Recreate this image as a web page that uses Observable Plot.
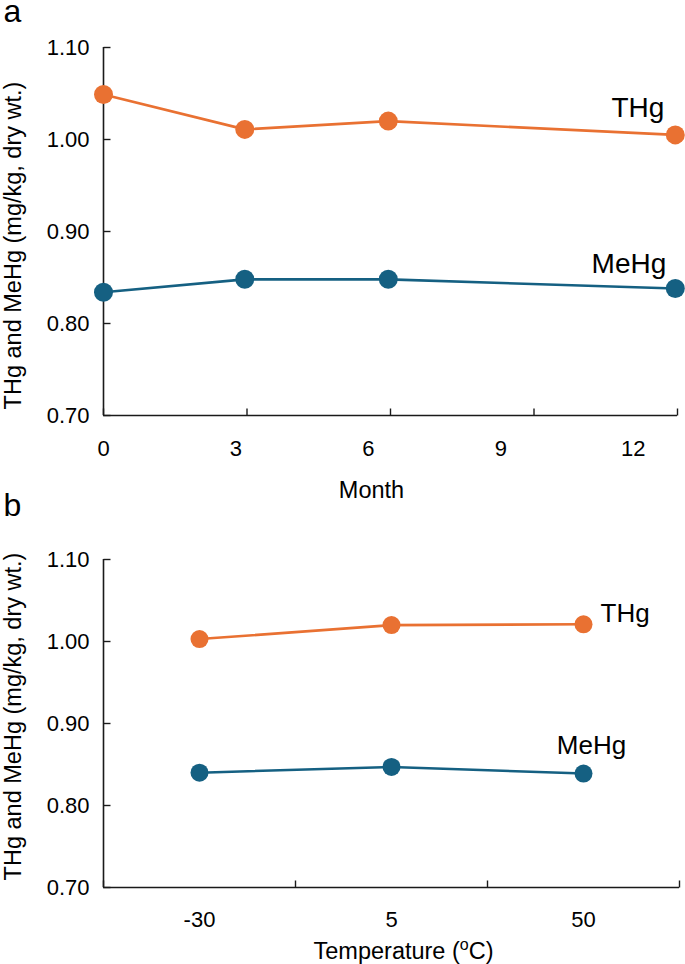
<!DOCTYPE html>
<html>
<head>
<meta charset="utf-8">
<script src="https://cdn.jsdelivr.net/npm/d3@7"></script>
<script src="https://cdn.jsdelivr.net/npm/@observablehq/plot@0.6"></script>
<style>
  html, body { margin: 0; padding: 0; background: #fff; }
  #wrap { width: 685px; position: relative; font-family: "Liberation Sans", Arial, sans-serif; }
  #wrap svg { display: block; }
</style>
</head>
<body>
<div id="wrap"></div>
<script>
// ---- data ----
const seriesNames = ["THg", "MeHg"];
const seriesColors = ["#E97132", "#156082"];

const months = [0, 3.2, 6.45, 12.95];
const thgMonth = [1.049, 1.011, 1.020, 1.005];
const mehgMonth = [0.834, 0.848, 0.848, 0.838];
const monthTickLabels = [0, 3, 6, 9, 12];
const monthTickMarks = [0, 3.25, 6.5, 9.75, 13];

const temps = ["-30", "5", "50"];
const thgTemp = [1.003, 1.020, 1.021];
const mehgTemp = [0.840, 0.847, 0.839];

const yTicks = [0.70, 0.80, 0.90, 1.00, 1.10];
const yTitle = "THg and MeHg (mg/kg, dry wt.)";
const panelLetters = ["a", "b"];

// ---- helpers ----
const FONT = "Liberation Sans, Arial, sans-serif";
const AX = "#1a1a1a";
const tickUp = {draw(ctx) { ctx.moveTo(0, 0); ctx.lineTo(0, -7); }};
const tickRight = {draw(ctx) { ctx.moveTo(0, 0); ctx.lineTo(7, 0); }};

function rows(xs, a, b) {
  const out = [];
  xs.forEach((x, i) => {
    out.push({x, y: a[i], s: seriesNames[0]});
    out.push({x, y: b[i], s: seriesNames[1]});
  });
  return out;
}

// ---- panel a ----
const dataA = rows(months, thgMonth, mehgMonth);
const plotA = Plot.plot({
  width: 685, height: 524,
  marginLeft: 103, marginRight: 8, marginTop: 47, marginBottom: 109,
  style: {fontFamily: FONT, fontSize: "22px", color: "#000", background: "#fff"},
  x: {domain: [0, 13], axis: null},
  y: {domain: [0.70, 1.10], axis: null},
  color: {domain: seriesNames, range: seriesColors},
  marks: [
    Plot.axisY(yTicks, {tickSize: 0, tickPadding: 14, tickFormat: d3.format(".2f"), label: null, fontSize: 22}),
    Plot.axisX(monthTickLabels, {tickSize: 0, tickPadding: 25, tickFormat: d => String(d), label: null, fontSize: 22}),
    Plot.ruleX([0], {stroke: AX, strokeWidth: 1.6}),
    Plot.ruleY([0.70], {stroke: AX, strokeWidth: 1.6}),
    Plot.dot(yTicks, {y: d => d, frameAnchor: "left", symbol: tickRight, stroke: AX, fill: "none", strokeWidth: 1.4}),
    Plot.dot(monthTickMarks, {x: d => d, frameAnchor: "bottom", symbol: tickUp, stroke: AX, fill: "none", strokeWidth: 1.4}),
    Plot.line(dataA, {x: "x", y: "y", z: "s", stroke: "s", strokeWidth: 2.6}),
    Plot.dot(dataA, {x: "x", y: "y", fill: "s", r: 9.5}),
    Plot.text([{x: months[3], y: thgMonth[3], t: seriesNames[0]}], {x: "x", y: "y", text: "t", textAnchor: "end", lineAnchor: "bottom", dx: -11, dy: -18, fontSize: 28, fill: "#000"}),
    Plot.text([{x: months[3], y: mehgMonth[3], t: seriesNames[1]}], {x: "x", y: "y", text: "t", textAnchor: "end", lineAnchor: "bottom", dx: -9, dy: -16, fontSize: 28, fill: "#000"}),
    Plot.text([yTitle], {frameAnchor: "left", rotate: -90, textAnchor: "middle", lineAnchor: "middle", dx: -90, dy: 14, fontSize: 23.5, fill: "#000"}),
    Plot.text(["Month"], {frameAnchor: "bottom", textAnchor: "middle", lineAnchor: "bottom", dx: -19, dy: 82, fontSize: 23.5, fill: "#000"}),
    Plot.text([panelLetters[0]], {frameAnchor: "top-left", textAnchor: "start", lineAnchor: "bottom", dx: -100, dy: -26, fontSize: 32, fill: "#000"}),
    Plot.text([panelLetters[1]], {frameAnchor: "bottom-left", textAnchor: "start", lineAnchor: "bottom", dx: -100, dy: 100, fontSize: 32, fill: "#000"})
  ]
});

// ---- panel b ----
const tempIdx = temps.map((t, i) => i + 0.5);
const dataB = rows(tempIdx, thgTemp, mehgTemp);
const plotB = Plot.plot({
  width: 685, height: 440,
  marginLeft: 103, marginRight: 6, marginTop: 35, marginBottom: 77,
  style: {fontFamily: FONT, fontSize: "22px", color: "#000", background: "#fff"},
  x: {domain: [0, temps.length], axis: null},
  y: {domain: [0.70, 1.10], axis: null},
  color: {domain: seriesNames, range: seriesColors},
  marks: [
    Plot.axisY(yTicks, {tickSize: 0, tickPadding: 14, tickFormat: d3.format(".2f"), label: null, fontSize: 22}),
    Plot.axisX(tempIdx, {tickSize: 0, tickPadding: 24, tickFormat: d => temps[Math.floor(d)], label: null, fontSize: 22}),
    Plot.ruleX([0], {stroke: AX, strokeWidth: 1.6}),
    Plot.ruleY([0.70], {stroke: AX, strokeWidth: 1.6}),
    Plot.dot(yTicks, {y: d => d, frameAnchor: "left", symbol: tickRight, stroke: AX, fill: "none", strokeWidth: 1.4}),
    Plot.dot(d3.range(temps.length + 1), {x: d => d, frameAnchor: "bottom", symbol: tickUp, stroke: AX, fill: "none", strokeWidth: 1.4}),
    Plot.line(dataB, {x: "x", y: "y", z: "s", stroke: "s", strokeWidth: 2.6}),
    Plot.dot(dataB, {x: "x", y: "y", fill: "s", r: 9}),
    Plot.text([{x: tempIdx[2], y: thgTemp[2], t: seriesNames[0]}], {x: "x", y: "y", text: "t", textAnchor: "start", lineAnchor: "bottom", dx: 17, dy: -2, fontSize: 26, fill: "#000"}),
    Plot.text([{x: tempIdx[2], y: mehgTemp[2], t: seriesNames[1]}], {x: "x", y: "y", text: "t", textAnchor: "middle", lineAnchor: "bottom", dx: 8, dy: -20, fontSize: 26, fill: "#000"}),
    Plot.text([yTitle], {frameAnchor: "left", rotate: -90, textAnchor: "middle", lineAnchor: "middle", dx: -90, dy: -7, fontSize: 23.5, fill: "#000"}),
    Plot.text(["Temperature (°C)"], {frameAnchor: "bottom", textAnchor: "middle", lineAnchor: "bottom", dx: 12, dy: 71, fontSize: 23.5, fill: "#000"})
  ]
});

const wrap = document.getElementById("wrap");
wrap.appendChild(plotA);
wrap.appendChild(plotB);

// superscript "o" in the temperature title
plotB.querySelectorAll("text").forEach(t => {
  if (t.textContent === "Temperature (°C)") {
    t.textContent = "";
    const ns = "http://www.w3.org/2000/svg";
    const a = document.createElementNS(ns, "tspan"); a.textContent = "Temperature (";
    const b = document.createElementNS(ns, "tspan"); b.textContent = "o"; b.setAttribute("dy", "-9"); b.setAttribute("font-size", "16");
    const c = document.createElementNS(ns, "tspan"); c.textContent = "C)"; c.setAttribute("dy", "9");
    t.appendChild(a); t.appendChild(b); t.appendChild(c);
  }
});
</script>
</body>
</html>
